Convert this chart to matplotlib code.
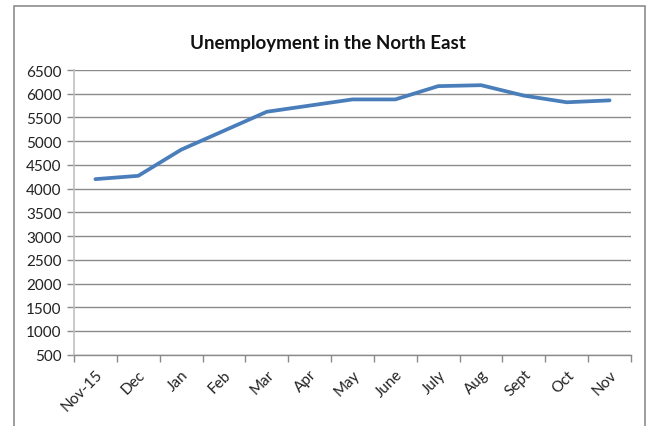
import matplotlib
matplotlib.use("Agg")
import matplotlib.pyplot as plt
from matplotlib.patches import Rectangle
from matplotlib.transforms import ScaledTranslation
import numpy as np

months = ["Nov-15", "Dec", "Jan", "Feb", "Mar", "Apr", "May", "June",
          "July", "Aug", "Sept", "Oct", "Nov"]
unemployment = [4200, 4270, 4820, 5220, 5620, 5750, 5880, 5880,
                6160, 6180, 5960, 5820, 5860]
y_ticks = list(range(500, 7000, 500))
title = "Unemployment in the North East"

plt.rcParams['font.family'] = ['Lato', 'DejaVu Sans']

W, H = 656, 427
fig = plt.figure(figsize=(W / 100, H / 100), dpi=100)

# outer chart frame
fig.patches.append(Rectangle((14 / W, -0.05), (645 - 14) / W, (H - 7) / H + 0.05,
                             transform=fig.transFigure, fill=False,
                             edgecolor="#8c8c8c", linewidth=1.2, zorder=0))

ax = fig.add_axes([74 / W, (H - 355.7) / H, (631 - 74) / W, (355.7 - 71) / H])
x = np.arange(len(months))
ax.plot(x, unemployment, color="#4A7EBB", linewidth=2.7, solid_capstyle="round",
        solid_joinstyle="round", zorder=3)

ax.set_xlim(-0.5, len(months) - 0.5)
ax.set_ylim(y_ticks[0], y_ticks[-1])
ax.set_yticks(y_ticks)
ax.set_yticklabels([str(v) for v in y_ticks], fontsize=11, color="#222222")
ax.yaxis.grid(True, color="#8a8a8a", linewidth=1.0)
ax.set_axisbelow(True)

ax.set_xticks(x)
ax.set_xticklabels(months, rotation=45, ha="right", va="top",
                   rotation_mode="anchor", fontsize=11, color="#222222")
offset = ScaledTranslation(4 / 100, 0, fig.dpi_scale_trans)
for lbl in ax.get_xticklabels():
    lbl.set_transform(lbl.get_transform() + offset)
ax.set_xticks(np.arange(-0.5, len(months)), minor=True)
ax.tick_params(axis="x", which="major", length=0, pad=9)
ax.tick_params(axis="x", which="minor", length=5, color="#8a8a8a", width=1.0)
ax.tick_params(axis="y", length=5, color="#8a8a8a", width=1.0, pad=4)

for s in ["top", "right"]:
    ax.spines[s].set_visible(False)
ax.spines["left"].set_color("#c0c0c0")
ax.spines["left"].set_linewidth(1.2)
ax.spines["bottom"].set_color("#8a8a8a")
ax.spines["bottom"].set_linewidth(1.0)

fig.text(328 / W, (H - 43) / H, title, ha="center", va="center",
         fontsize=13.5, fontweight="bold", color="#111111")

fig.savefig("out.png", dpi=100)
